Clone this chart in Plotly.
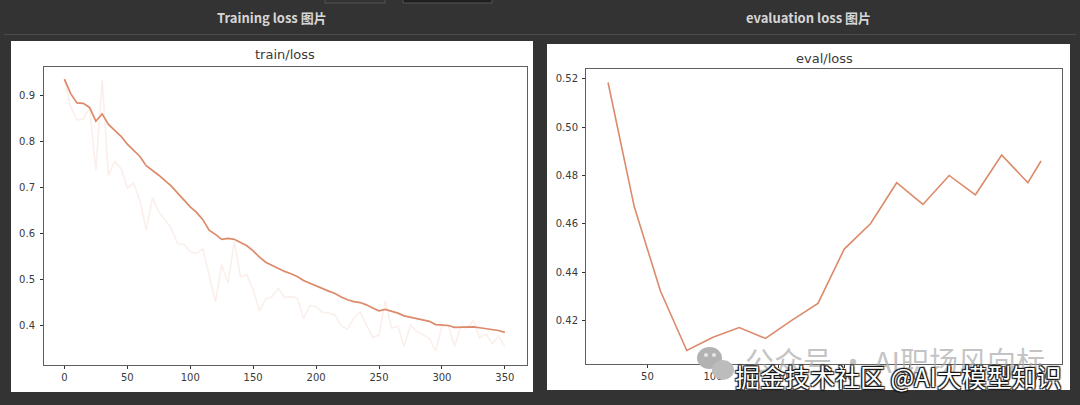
import plotly.graph_objects as go

W, H = 1080, 405
BG = "#333333"
LINE = "#dc8a6a"
FAINT = "rgba(226,140,110,0.14)"
TXT = "#3a3a3a"
AX = "#5f5f5f"

train_steps = list(range(0, 355, 5))
train_smooth = [.937, .905, .885, .884, .875, .845, .861, .838, .825, .812, .795, .782, .768, .748, .738, .727,
                .715, .703, .688, .673, .658, .646, .630, .607, .598, .587, .589, .587, .580, .573, .562, .548,
                .537, .530, .524, .517, .512, .506, .497, .491, .485, .480, .474, .469, .461, .455, .451, .449,
                .444, .437, .431, .434, .430, .426, .420, .417, .415, .411, .408, .401, .400, .399, .395, .395,
                .395, .396, .394, .392, .390, .388, .384]
train_raw = [.935, .877, .848, .850, .874, .738, .936, .726, .757, .742, .699, .710, .672, .607, .678, .647,
             .630, .610, .578, .576, .560, .556, .567, .510, .451, .531, .491, .582, .505, .510, .477, .431,
             .457, .462, .480, .460, .462, .459, .414, .443, .440, .428, .426, .422, .398, .391, .415, .428,
             .400, .373, .378, .453, .393, .398, .353, .400, .386, .378, .371, .343, .397, .400, .353, .398,
             .393, .410, .372, .380, .359, .376, .353]

eval_steps = [20, 40, 60, 80, 100, 120, 140, 160, 180, 200, 220, 240, 260, 280, 300, 320, 340, 350]
eval_loss = [.5185, .467, .432, .4075, .413, .417, .4125, .420, .427, .4495, .460, .477, .468, .480, .472, .4885, .477, .486]

train_xticks = [0, 50, 100, 150, 200, 250, 300, 350]
train_yticks = [0.4, 0.5, 0.6, 0.7, 0.8, 0.9]
eval_xticks = [50, 100, 150, 200, 250, 300, 350]
eval_yticks = [0.42, 0.44, 0.46, 0.48, 0.50, 0.52]


def fx(p):
    return p / W


def fy(p):
    return 1 - p / H


def rect(x0, y0, x1, y1, fill, line=None, layer="below"):
    return dict(type="rect", xref="paper", yref="paper", x0=fx(x0), x1=fx(x1), y0=fy(y0), y1=fy(y1),
                fillcolor=fill, line=dict(color=line or fill, width=1 if line else 0), layer=layer)


def circle(x0, y0, x1, y1, fill):
    return dict(type="circle", xref="paper", yref="paper", x0=fx(x0), x1=fx(x1), y0=fy(y0), y1=fy(y1),
                fillcolor=fill, line=dict(width=0), layer="above")


def note(text, x, y, size, color, family="DejaVu Sans", weight="normal", shadow=None):
    font = dict(size=size, color=color, family=family, weight=weight)
    if shadow:
        font["shadow"] = shadow
    return dict(text=text, xref="paper", yref="paper", x=fx(x), y=fy(y), showarrow=False,
                xanchor="center", yanchor="middle", font=font)


fig = go.Figure()
fig.add_trace(go.Scatter(x=train_steps, y=train_raw, mode="lines", line=dict(color=FAINT, width=1.6),
                         xaxis="x", yaxis="y", hoverinfo="skip"))
fig.add_trace(go.Scatter(x=train_steps, y=train_smooth, mode="lines", line=dict(color=LINE, width=1.7),
                         xaxis="x", yaxis="y"))
fig.add_trace(go.Scatter(x=eval_steps, y=eval_loss, mode="lines", line=dict(color=LINE, width=1.6),
                         xaxis="x2", yaxis="y2"))

axis_style = dict(showgrid=False, zeroline=False, showline=True, mirror=True, linecolor=AX, linewidth=1,
                  ticks="outside", ticklen=3, tickwidth=1, tickcolor="#333333",
                  tickfont=dict(size=10, color=TXT, family="DejaVu Sans"))

fig.update_layout(
    width=W, height=H, autosize=False, showlegend=False,
    margin=dict(l=0, r=0, t=0, b=0),
    paper_bgcolor=BG, plot_bgcolor="rgba(0,0,0,0)",
    xaxis=dict(domain=[fx(44), fx(527)], range=[-16.2, 367.6], tickvals=train_xticks, anchor="y", **axis_style),
    yaxis=dict(domain=[fy(365), fy(67)], range=[0.3127, 0.9633], tickvals=train_yticks,
               tickformat=".1f", anchor="x", ticklabelstandoff=3, **axis_style),
    xaxis2=dict(domain=[fx(586), fx(1062)], range=[3.2, 366], tickvals=eval_xticks, anchor="y2", **axis_style),
    yaxis2=dict(domain=[fy(364), fy(69)], range=[0.4019, 0.5241], tickvals=eval_yticks,
                tickformat=".2f", anchor="x2", ticklabelstandoff=2, **axis_style),
    shapes=[
        rect(325, -2, 385, 3, "#333333", "#555555"),
        rect(403, -2, 492, 3, "#1f1f1f", "#555555"),
        rect(4, 34, 1076, 35, "#4c4c4c"),
        rect(11, 41, 533, 392, "#ffffff"),
        rect(547, 44, 1070, 390, "#ffffff"),
        circle(697, 347, 722, 369, "#b2b2b2"),
        circle(712, 360, 734, 380, "#bcbcbc"),
        circle(704, 353, 708, 357, "#e6e6e6"),
        circle(712, 353, 716, 357, "#e6e6e6"),
    ],
    annotations=[
        note("Training loss 图片", 272, 18, 13, "#d6d6d6", "Noto Sans CJK SC", "bold"),
        note("evaluation loss 图片", 808, 18, 13, "#d6d6d6", "Noto Sans CJK SC", "bold"),
        note("train/loss", 285, 55, 13, TXT),
        note("eval/loss", 824, 58, 13, TXT),
        note("公众号 · AI职场风向标", 895, 360, 29, "rgba(170,170,170,0.7)", "Noto Sans CJK SC"),
        note("掘金技术社区 @AI大模型知识", 898, 376, 25, "#ffffff", "Noto Sans CJK SC",
             shadow="1px 1px 1px #111, -1px -1px 1px #111, 1px -1px 1px #111, -1px 1px 1px #111"),
    ],
)

fig.write_html("out.html", config=dict(displayModeBar=False),
               post_script="document.body.style.margin='0';document.body.style.overflow='hidden';")
